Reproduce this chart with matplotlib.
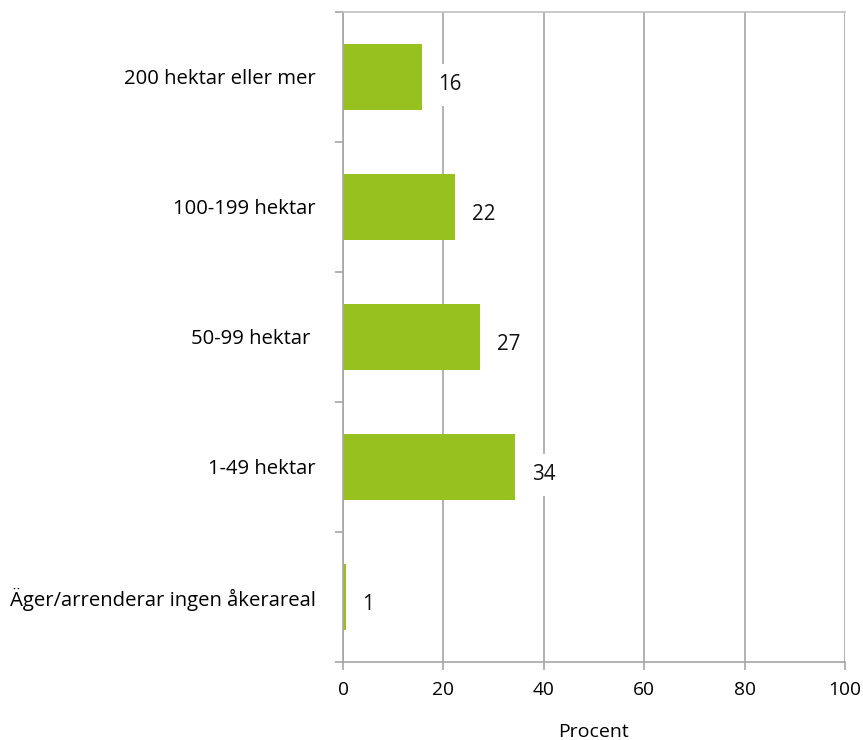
import matplotlib.pyplot as plt

# categories bottom to top
categories = ["Äger/arrenderar ingen åkerareal", "1-49 hektar", "50-99 hektar ",
              "100-199 hektar", "200 hektar eller mer"]
values = [0.6, 34.3, 27.3, 22.4, 15.7]
labels = ["1", "34", "27", "22", "16"]
xticks = [0, 20, 40, 60, 80, 100]

plt.rcParams['font.family'] = ['Open Sans', 'DejaVu Sans']

fig = plt.figure(figsize=(8.63, 7.4), dpi=100)
ax = fig.add_axes([0.3975, 0.1054, 0.5815, 0.8784])

grid_col = "#a6a6a6"
ypos = list(range(len(categories)))
ax.barh(ypos, values, height=0.515, color="#97c11f", zorder=2)

for y, v, lab in zip(ypos, values, labels):
    ax.text(v + 3.3, y - 0.06, lab, va="center", ha="left", fontsize=14.8,
            color="#111111", zorder=4,
            bbox=dict(boxstyle="square,pad=0.5", fc="white", ec="none"))

ax.set_xlim(0, 100)
ax.set_ylim(-0.5, len(categories) - 0.5)
ax.set_xticks(xticks)
ax.set_xticklabels([str(t) for t in xticks], fontsize=13.8)
ax.xaxis.grid(True, color=grid_col, linewidth=1.2, zorder=0)
ax.set_axisbelow(True)

ax.set_yticks(ypos)
ax.set_yticklabels(categories, fontsize=14.6)
ax.tick_params(axis="y", which="major", length=0, pad=19.5)
ax.set_yticks([y - 0.5 for y in ypos] + [len(categories) - 0.5], minor=True)
ax.tick_params(axis="y", which="minor", length=6, color=grid_col, width=1.2)
ax.tick_params(axis="x", length=6, color=grid_col, width=1.2, pad=8)

ax.set_xlabel("Procent", fontsize=14, labelpad=17)

for side in ["left", "bottom"]:
    ax.spines[side].set_color(grid_col)
    ax.spines[side].set_linewidth(1.2)
ax.spines["top"].set_color("#c0c0c0")
ax.spines["top"].set_linewidth(1.2)
ax.spines["right"].set_visible(False)

fig.savefig("out.png", dpi=100)
